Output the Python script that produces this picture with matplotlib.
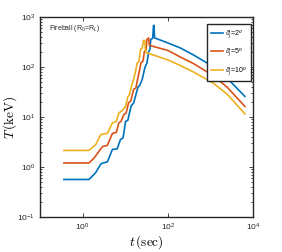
import matplotlib
matplotlib.use('Agg')
import matplotlib.pyplot as plt
from matplotlib.ticker import LogLocator, NullLocator

plt.rcParams['font.family'] = ['Liberation Sans', 'DejaVu Sans']
plt.rcParams['mathtext.fontset'] = 'custom'
plt.rcParams['mathtext.rm'] = 'Liberation Sans'
plt.rcParams['mathtext.it'] = 'Liberation Sans:italic'

# t in sec, T in keV
t_2 = [0.363, 1.41, 2.00, 2.69, 2.95, 3.80, 5.01, 6.46, 7.76, 8.91, 10.2, 11.5,
       13.8, 15.8, 20.0, 21.9, 25.1, 28.8, 32.4, 35.5, 38.0, 39.8, 44.2, 46.2,
       47.3, 49.0, 100, 195, 398, 1150, 2510, 6460]
T_2 = [0.562, 0.562, 0.759, 1.15, 1.20, 1.26, 2.24, 2.29, 3.55, 3.80, 8.13, 8.51,
       16.6, 19.1, 39.8, 42.7, 56.2, 95.5, 120, 200, 224, 355, 372, 676,
       676, 380, 302, 240, 174, 102, 58.9, 25.7]

t_5 = [0.363, 1.41, 1.86, 2.51, 2.95, 3.80, 5.01, 6.17, 7.08, 7.94, 9.33, 10.5,
       12.0, 13.5, 15.8, 17.8, 19.5, 21.9, 23.4, 26.3, 28.2, 30.9, 32.4, 35.5,
       37.2, 100, 195, 398, 1150, 2510, 6460]
T_5 = [1.20, 1.20, 1.51, 2.14, 2.57, 2.69, 4.68, 4.90, 7.59, 8.13, 11.2, 12.0,
       19.1, 20.9, 35.5, 38.0, 56.2, 89.1, 120, 132, 204, 219, 355, 380,
       269, 214, 158, 117, 67.6, 38.9, 16.2]

t_10 = [0.363, 1.41, 2.04, 2.69, 3.80, 5.01, 6.17, 7.08, 8.32, 10.2, 11.5, 12.6,
        14.1, 15.8, 17.4, 19.1, 20.9, 22.9, 25.1, 26.9, 28.8, 30.2, 100, 195,
        398, 1150, 2510, 6460]
T_10 = [2.14, 2.14, 2.82, 4.47, 4.68, 7.59, 8.13, 12.0, 13.2, 16.2, 25.1, 28.2,
        41.7, 56.2, 79.4, 120, 126, 224, 234, 339, 339, 195, 138, 107,
        79.4, 47.9, 28.2, 11.5]

labels = [r'$\vartheta_j$=2$^o$', r'$\vartheta_j$=5$^o$', r'$\vartheta_j$=10$^o$']
colors = ['#0072BD', '#D95319', '#EDB120']

fig = plt.figure(figsize=(2.82, 2.52), dpi=100)
ax = fig.add_axes([0.142, 0.139, 0.755, 0.794])

for t, T, lab, c in zip([t_2, t_5, t_10], [T_2, T_5, T_10], labels, colors):
    ax.plot(t, T, color=c, lw=1.2, label=lab)

ax.set_xscale('log')
ax.set_yscale('log')
ax.set_xlim(0.1, 1e4)
ax.set_ylim(0.1, 1e3)
ax.set_xticks([1, 100, 1e4])
ax.xaxis.set_minor_locator(NullLocator())
ax.yaxis.set_major_locator(LogLocator(base=10, numticks=10))
ax.yaxis.set_minor_locator(LogLocator(base=10, subs=range(2, 10), numticks=10))

ax.tick_params(which='both', direction='in', top=True, right=True,
               labelsize=6, colors='#262626', width=0.6)
ax.tick_params(which='major', length=3)
ax.tick_params(which='minor', length=1.6)
for s in ax.spines.values():
    s.set_linewidth(1.0)
    s.set_color('#262626')

ax.set_xlabel(r'$t\,(\mathrm{sec})$', fontsize=9.5, math_fontfamily='cm', va='center')
ax.set_ylabel(r'$T\,(\mathrm{keV})$', fontsize=9.5, math_fontfamily='cm', va='center')
ax.xaxis.set_label_coords(0.5, -0.125)
ax.yaxis.set_label_coords(-0.14, 0.5)

ax.text(0.04, 0.94, 'Fireball (R$_0$=R$_L$)', transform=ax.transAxes,
        fontsize=5, va='center', ha='left', color='#262626')

leg = ax.legend(loc='upper right', bbox_to_anchor=(0.989, 0.965),
                borderaxespad=0, fontsize=5, handlelength=1.8,
                labelspacing=1.0, borderpad=0.55, handletextpad=0.3,
                fancybox=False, framealpha=1)
leg.get_frame().set_edgecolor('#262626')
leg.get_frame().set_linewidth(1.0)

fig.savefig('out.png', dpi=100)
